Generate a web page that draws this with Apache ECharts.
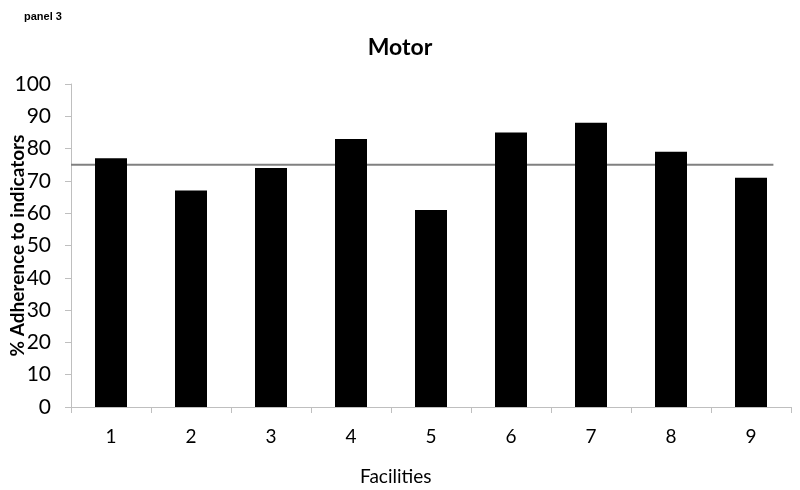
<!DOCTYPE html>
<html><head><meta charset="utf-8">
<script src="https://cdn.jsdelivr.net/npm/echarts@6/dist/echarts.min.js"></script>
<style>html,body{margin:0;padding:0;background:#fff}#c{width:800px;height:490px}</style>
</head><body><div id="c"></div>
<script>
var categories = ['1','2','3','4','5','6','7','8','9'];
var adherence = [77, 67, 74, 83, 61, 85, 88, 79, 71];
var targetLevel = 75;
var targetLineX = [0, 8.78];
var yTicks = {min: 0, max: 100, interval: 10};

var chart = echarts.init(document.getElementById('c'), null, {renderer: 'canvas'});
var font = 'Lato, "Open Sans", sans-serif';
chart.setOption({
  animation: false,
  backgroundColor: '#fff',
  title: [
    {text: 'panel 3', left: 19, top: 6, textStyle: {fontFamily: 'Liberation Sans, Arial', fontWeight: 'bold', fontSize: 11, color: '#000'}},
    {text: 'Motor', left: 'center', top: 31, textStyle: {fontFamily: font, fontWeight: 'bold', fontSize: 23, color: '#000'}},
    {text: 'Facilities', left: 360, top: 467, padding: 0, textStyle: {fontFamily: font, fontWeight: 'normal', fontSize: 19, color: '#000'}}
  ],
  grid: {left: 71, right: 9, top: 84, bottom: 83, containLabel: false, outerBoundsMode: 'none'},
  xAxis: [{
    type: 'category', data: categories,
    axisLine: {lineStyle: {color: '#bfbfbf', width: 1}},
    axisTick: {show: true, length: 6, lineStyle: {color: '#bfbfbf'}},
    axisLabel: {fontFamily: font, fontSize: 19, color: '#000', margin: 20}
  }, {
    type: 'value', min: 0, max: 9, show: false
  }],
  yAxis: {
    type: 'value', min: yTicks.min, max: yTicks.max, interval: yTicks.interval,
    name: '% Adherence to indicators', nameLocation: 'middle', nameGap: 44, nameMoveOverlap: false,
    nameTextStyle: {fontFamily: font, fontWeight: 'bold', fontSize: 19, color: '#000'},
    axisLine: {show: true, lineStyle: {color: '#bfbfbf', width: 1}},
    axisTick: {show: true, length: 6, lineStyle: {color: '#bfbfbf'}},
    splitLine: {show: false},
    axisLabel: {fontFamily: font, fontSize: 21, color: '#000', margin: 20}
  },
  series: [{
    type: 'bar', data: adherence, barWidth: 32, xAxisIndex: 0,
    itemStyle: {color: '#000'}
  }, {
    type: 'line', xAxisIndex: 1, symbol: 'none', z: 1,
    data: targetLineX.map(function(x){ return [x, targetLevel]; }),
    lineStyle: {color: '#808080', width: 2}
  }]
});
</script></body></html>
